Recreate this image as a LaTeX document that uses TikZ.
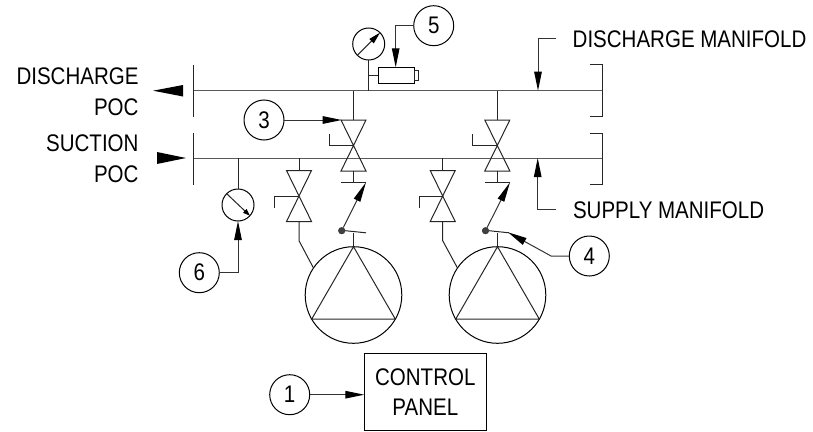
\documentclass[tikz,border=0pt]{standalone}
\usepackage{fontspec}
\setmainfont[FakeStretch=0.855]{Liberation Sans}
\usetikzlibrary{arrows.meta}
\tikzset{
	pipe/.style={line width=1pt, color=black!85},
	header/.style={line width=1.2pt, color=black!65},
	leader/.style={line width=1pt, color=black!80, -{Triangle[length=19pt,width=7.5pt,color=black]}},
	balloon/.style={draw, circle, minimum size=40pt, inner sep=0pt, outer sep=0pt, line width=1pt},
	gauge/.style={draw, circle, minimum size=32pt, inner sep=0pt, outer sep=0pt, line width=1pt},
	pump/.style={draw, circle, minimum size=96.6pt, inner sep=0pt, outer sep=0pt, line width=1pt},
	pivot/.style={draw=black!85, fill=black!75, circle, minimum size=6.6pt, inner sep=0pt},
	lettering/.style={inner sep=0pt, outer sep=0pt, font=\fontsize{24}{30.3}\selectfont}
}
% bow tie of a valve, with its hand lever: (centre)(lever x,lever y)
\def\valvetie(#1,#2)(#3,#4){\draw[pipe] ({#1-12.5},{#2-25.5}) -- ({#1+12.5},{#2-25.5}) -- ({#1-12.5},{#2+25.5}) -- ({#1+12.5},{#2+25.5}) -- cycle;
	\draw[pipe] (#3,#4) -- (#3,#2) -- (#1,#2);}

\begin{document}
\begin{tikzpicture}[x=1pt,y=-1pt]
	\useasboundingbox (0,0) rectangle (813,431);
	%%%%% MANIFOLDS %%%%%
	\draw[header] (193.5,90.5) -- (602.5,90.5);
	\draw[header] (193.5,158.5) -- (602.5,158.5);
	\draw[pipe] (193.5,65) -- (193.5,116.7);
	\draw[pipe] (193.5,133) -- (193.5,184.5);
	\draw[pipe] (590,64.3) -- (602.5,64.3) -- (602.5,116.7) -- (590,116.7);
	\draw[pipe] (590,133) -- (602.5,133) -- (602.5,184.5) -- (590,184.5);
	\fill (153,90.7) -- (183,85) -- (183,96.5) -- cycle;
	\fill (186,158) -- (157,152) -- (157,164) -- cycle;

	\node[lettering, anchor=base east] at (138.5,84.7) {DISCHARGE};
	\node[lettering, anchor=base east] at (138.5,115) {POC};
	\node[lettering, anchor=base east] at (138.5,151.7) {SUCTION};
	\node[lettering, anchor=base east] at (138.5,182) {POC};
	\node[lettering, anchor=base west] (dischargelabel) at (572.7,47.3) {DISCHARGE MANIFOLD};
	\node[lettering, anchor=base west] (supplylabel) at (573,218) {SUPPLY MANIFOLD};

	\coordinate (dischargetag) at (556,38.7);
	\coordinate (dischargehit) at (538,90.7);
	\coordinate (supplytag) at (556,209.7);
	\coordinate (supplyhit) at (537.7,158);
	\draw[leader] (dischargetag) -| (dischargehit);
	\draw[leader] (supplytag) -| (supplyhit);

	%%%%% VALVES %%%%%
	\valvetie(353.5,145.5)(329,134)
	\valvetie(497.3,145.5)(472.7,134)
	\valvetie(299,196)(274.7,207.7)
	\valvetie(442.7,196)(419,207.7)

	\draw[pipe] (353.5,90.7) -- (353.5,120);
	\draw[pipe] (497.3,90.7) -- (497.3,120);
	\draw[pipe] (299,158) -- (299,170.5);
	\draw[pipe] (442.7,158) -- (442.7,170.5);

	%%%%% PUMPS %%%%%
	\node[pump] (pumpa) at (353.5,295) {};
	\node[pump] (pumpb) at (497.5,295) {};
	\draw[pipe] (pumpa.north) -- (pumpa.-150) -- (pumpa.-30) -- cycle;
	\draw[pipe] (pumpb.north) -- (pumpb.-150) -- (pumpb.-30) -- cycle;

	\draw[pipe] (299,221.5) -- (299,240.7) -- (pumpa.146);
	\draw[pipe] (442.7,221.5) -- (442.7,240.7) -- (pumpb.146);

	%%%%% CHECK VALVES %%%%%
	\node[pivot] (pivota) at (341.7,230.7) {};
	\node[pivot] (pivotb) at (485.5,230.7) {};
	\draw[pipe] (353.5,171) -- (353.5,182.3);
	\draw[pipe] (497.3,171) -- (497.3,182.3);
	\draw[pipe] (341,182.3) -- (366,182.3);
	\draw[pipe] (485,182.3) -- (510,182.3);
	\draw[leader, -{Triangle[length=20pt,width=7pt,color=black]}] (pivota) -- (366,182.3);
	\draw[leader, -{Triangle[length=20pt,width=7pt,color=black]}] (pivotb) -- (510,182.3);
	\draw[pipe] (pivota.east) -- (366,232.8);
	\draw[pipe] (pivotb.east) -- (509,232.8);
	\draw[pipe] (353.5,232.8) -- (pumpa.north);
	\draw[pipe] (497.5,232.8) -- (pumpb.north);

	%%%%% INSTRUMENTS %%%%%
	\node[gauge] (gaugetop) at (368.7,44) {};
	\node[gauge] (gaugelow) at (238,205) {};
	\node[draw, line width=1pt, minimum width=35.7pt, minimum height=16pt, inner sep=0pt, outer sep=0pt] (solenoid) at (396.2,75.3) {};
	\draw[pipe] (414,70.7) rectangle (418,80);
	\draw[pipe] (gaugetop) -- (368.7,90.7);
	\draw[pipe] (368.7,75.3) -- (solenoid.west);
	\draw[pipe] (238,158) -- (gaugelow);
	\draw[pipe, -{Triangle[length=12pt,width=6pt,color=black]}] (gaugetop.-135) -- (gaugetop.45);
	\draw[pipe, -{Triangle[length=7pt,width=5pt,color=black]}] (gaugelow.135) -- (gaugelow.-42);

	%%%%% BALLOONS %%%%%
	\node[balloon, lettering] (bal1) at (289.7,394.7) {1};
	\node[balloon, lettering] (bal3) at (264,120) {3};
	\node[balloon, lettering] (bal4) at (589.3,256) {4};
	\node[balloon, lettering] (bal5) at (433.7,25.7) {5};
	\node[balloon, lettering] (bal6) at (199.3,272.7) {6};

	\node[draw, line width=1pt, minimum width=122pt, minimum height=77pt, inner sep=0pt, outer sep=0pt, align=center, font=\fontsize{24}{30.3}\selectfont] (panel) at (425.3,392.2) {CONTROL\\PANEL};

	\coordinate (valvetip) at (341.7,120);
	\coordinate (soltip) at (395.7,67.3);
	\coordinate (pumptip) at (508,232.3);
	\draw[leader] (bal1.east) -- (panel.west |- bal1.east);
	\draw[leader] (bal3.east) -- (valvetip);
	\draw[leader] (bal5.west) -| (soltip);
	\draw[leader] (bal6.east) -| (gaugelow.south);
	\draw[leader] (bal4.west) -- (551,256) -- (pumptip);
\end{tikzpicture}
\end{document}
